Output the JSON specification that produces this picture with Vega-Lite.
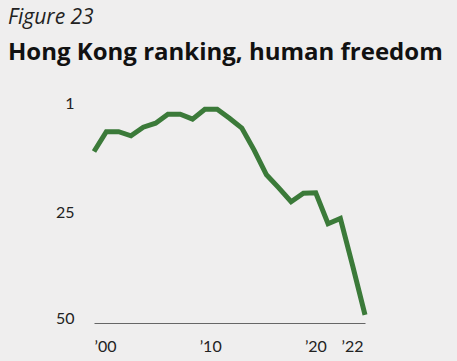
{
  "$schema": "https://vega.github.io/schema/vega-lite/v6.json",
  "width": 271,
  "height": 220,
  "autosize": "none",
  "padding": {"left": 94, "top": 103, "right": 92, "bottom": 38},
  "background": "#efeeee",
  "title": {
    "text": "Figure 23",
    "subtitle": "Hong Kong ranking, human freedom",
    "anchor": "start",
    "frame": "group",
    "dx": -86,
    "offset": 30,
    "font": "Open Sans",
    "fontSize": 21,
    "fontStyle": "italic",
    "fontWeight": "normal",
    "color": "#222222",
    "subtitleFont": "Open Sans",
    "subtitleFontSize": 24,
    "subtitleFontWeight": "bold",
    "subtitleColor": "#111111",
    "subtitlePadding": 13
  },
  "config": {"view": {"stroke": null}},
  "data": {
    "values": [
      {"year": 2000, "rank": 11.8},
      {"year": 2001, "rank": 7.4},
      {"year": 2002, "rank": 7.4},
      {"year": 2003, "rank": 8.3},
      {"year": 2004, "rank": 6.4},
      {"year": 2005, "rank": 5.5},
      {"year": 2006, "rank": 3.5},
      {"year": 2007, "rank": 3.5},
      {"year": 2008, "rank": 4.6},
      {"year": 2009, "rank": 2.4},
      {"year": 2010, "rank": 2.4},
      {"year": 2011, "rank": 4.4},
      {"year": 2012, "rank": 6.6},
      {"year": 2013, "rank": 11.5},
      {"year": 2014, "rank": 17.0},
      {"year": 2015, "rank": 19.9},
      {"year": 2016, "rank": 23.0},
      {"year": 2017, "rank": 21.1},
      {"year": 2018, "rank": 21.0},
      {"year": 2019, "rank": 27.9},
      {"year": 2020, "rank": 26.7},
      {"year": 2021, "rank": 37.3},
      {"year": 2022, "rank": 48.2}
    ]
  },
  "mark": {"type": "line", "color": "#3b7a39", "strokeWidth": 5, "strokeJoin": "miter", "strokeCap": "butt"},
  "encoding": {
    "x": {
      "field": "year",
      "type": "quantitative",
      "scale": {"domain": [2000, 2022], "nice": false, "zero": false},
      "axis": {
        "title": null,
        "values": [2000, 2010, 2020, 2022],
        "labelExpr": "'’' + substring(toString(datum.value), 2)",
        "grid": false,
        "ticks": false,
        "domain": true,
        "domainColor": "#666666",
        "domainWidth": 1.2,
        "labelFont": "Lato",
        "labelFontSize": 16,
        "labelColor": "#222222",
        "labelPadding": 15,
        "labelFlush": false,
        "labelOverlap": false,
        "labelOffset": {"expr": "datum.value == 2000 ? 11 : datum.value == 2010 ? -7 : datum.value == 2020 ? -25 : -13"}
      }
    },
    "y": {
      "field": "rank",
      "type": "quantitative",
      "scale": {"domain": [1, 50], "reverse": true, "nice": false, "zero": false},
      "axis": {
        "title": null,
        "values": [1, 25, 50],
        "grid": false,
        "ticks": false,
        "domain": false,
        "labelFont": "Lato",
        "labelFontSize": 16,
        "labelColor": "#222222",
        "labelPadding": 20,
        "labelOffset": {"expr": "datum.value == 50 ? -5 : datum.value == 25 ? 2 : 0"}
      }
    }
  }
}
